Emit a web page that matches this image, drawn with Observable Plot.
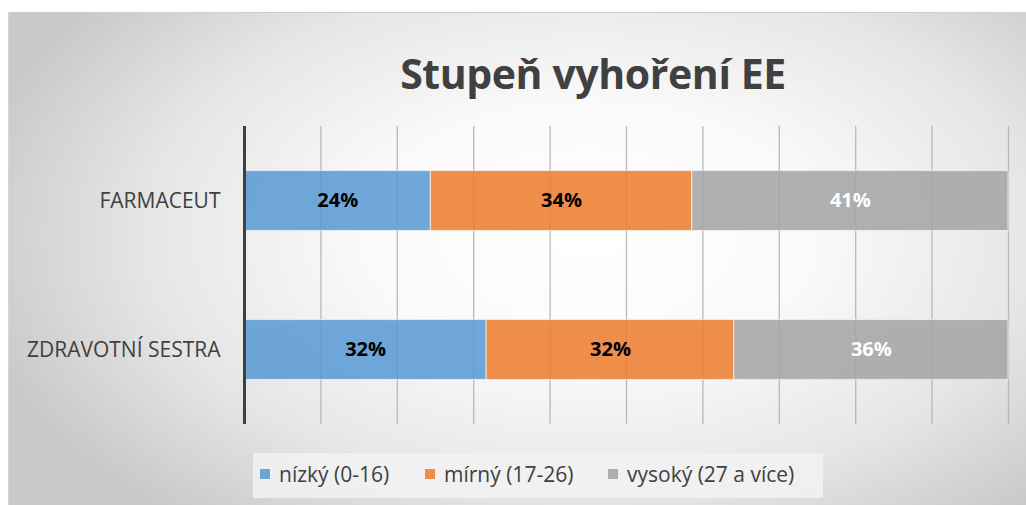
<!DOCTYPE html>
<html>
<head>
<meta charset="utf-8">
<script src="https://cdn.jsdelivr.net/npm/d3@7"></script>
<script src="https://cdn.jsdelivr.net/npm/@observablehq/plot@0.6"></script>
<style>
  html, body { margin: 0; padding: 0; background: #ffffff; }
  #frame {
    position: absolute; left: 8px; top: 12px; width: 1018px; height: 493px;
    background: radial-gradient(ellipse 62% 75% at 57% 45%, #ffffff 0%, #fafafa 35%, #e6e6e6 70%, #c9c9c9 100%);
    border-top: 1.5px solid #cfcfcf; border-left: 1.5px solid #d6d6d6;
    font-family: "Open Sans", sans-serif;
  }
  #title {
    position: absolute; left: 0; width: 1018px; top: 32px;
    text-align: center; padding-left: 150px; box-sizing: border-box;
    font-weight: bold; font-size: 41px; color: #404040; letter-spacing: -0.4px;
  }
  #plot { position: absolute; left: -8px; top: 88px; }
  #legend {
    position: absolute; left: 244px; top: 440px; width: 570px; height: 45px;
    background: rgba(242,242,242,0.85);
    font-size: 21px; color: #404040;
  }
  .item { display: flex; align-items: center; position: absolute; top: 7px; }
  .sw { width: 10px; height: 10px; margin-right: 9px; display: inline-block; }
</style>
</head>
<body>
<div id="frame">
  <div id="title">Stupeň vyhoření EE</div>
  <div id="plot"></div>
  <div id="legend"></div>
</div>
<script>
const categories = ["FARMACEUT", "ZDRAVOTNÍ SESTRA"];
const series = ["nízký (0-16)", "mírný (17-26)", "vysoký (27 a více)"];
const farmaceut = [24.4, 34.2, 41.4];
const zdravotniSestra = [31.7, 32.4, 35.9];
const colors = ["#5B9BD5", "#ED7D31", "#A5A5A5"];
const gridTicks = [10, 20, 30, 40, 50, 60, 70, 80, 90, 100];

const rows = [];
[farmaceut, zdravotniSestra].forEach((vals, i) => {
  vals.forEach((v, j) => rows.push({cat: categories[i], series: series[j], value: v}));
});

const fmt = d => Math.round(d.value) + "%";

const chart = Plot.plot({
  width: 1026,
  height: 340,
  marginLeft: 243,
  marginRight: 19,
  marginTop: 25,
  marginBottom: 17,
  style: {background: "transparent", fontFamily: "Open Sans, sans-serif", overflow: "visible"},
  x: {domain: [0, 100], axis: null},
  y: {domain: categories, paddingInner: 0, paddingOuter: 0, label: null},
  color: {domain: series, range: colors},
  marks: [
    Plot.ruleX(gridTicks, {stroke: "#b8b8b8", strokeWidth: 1.3}),
    Plot.barX(rows, Plot.stackX({
      x: "value", y: "cat", fill: "series",
      fillOpacity: 0.88, stroke: "#ffffff", strokeOpacity: 0.55, strokeWidth: 1.2,
      insetTop: 44.5, insetBottom: 44.5
    })),
    Plot.text(rows, Plot.stackX({
      x: "value", y: "cat", z: "series",
      text: d => d.series !== series[2] ? fmt(d) : "",
      fill: "#000000", fontWeight: "bold", fontSize: 20
    })),
    Plot.text(rows, Plot.stackX({
      x: "value", y: "cat", z: "series",
      text: d => d.series === series[2] ? fmt(d) : "",
      fill: "#ffffff", fontWeight: "bold", fontSize: 20
    })),
    Plot.ruleX([0], {stroke: "#404040", strokeWidth: 3}),
    Plot.axisY({tickSize: 0, tickPadding: 24, fontSize: 21, fill: "#404040", label: null})
  ]
});
document.getElementById("plot").appendChild(chart);

const legend = document.getElementById("legend");
const positions = [7, 172, 355];
series.forEach((s, i) => {
  const it = document.createElement("div");
  it.className = "item";
  it.style.left = positions[i] + "px";
  const sw = document.createElement("span");
  sw.className = "sw";
  sw.style.background = colors[i];
  sw.style.opacity = 0.88;
  const tx = document.createElement("span");
  tx.textContent = s;
  it.appendChild(sw); it.appendChild(tx);
  legend.appendChild(it);
});
</script>
</body>
</html>
